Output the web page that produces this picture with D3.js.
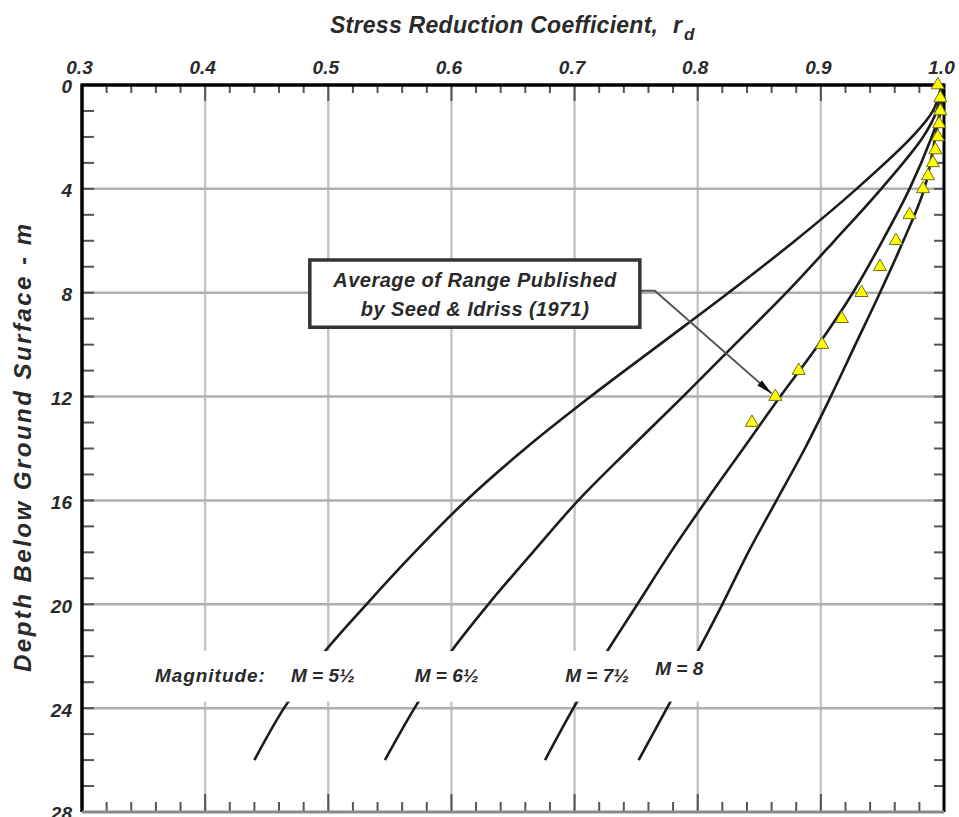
<!DOCTYPE html>
<html>
<head>
<meta charset="utf-8">
<script src="https://cdn.jsdelivr.net/npm/d3@7"></script>
<style>
  html, body { margin: 0; padding: 0; background: #fff; }
  svg { display: block; }
  text { font-family: "Liberation Sans", Arial, Helvetica, sans-serif; font-style: italic; font-weight: bold; fill: #2a2a2a; }
</style>
</head>
<body>
<svg id="chart" width="959" height="817"></svg>
<script>
// Depth stations (m) at which each magnitude curve is tabulated
const depthStations = [0, 1, 2, 4, 6, 8, 10, 12, 14, 16, 18, 20, 22, 24, 26];
// Stress reduction coefficient r_d for each earthquake magnitude
const rdM55 = [0.998, 0.991, 0.974, 0.929, 0.879, 0.825, 0.769, 0.713, 0.660, 0.612, 0.570, 0.531, 0.494, 0.464, 0.440];
const rdM65 = [0.998, 0.994, 0.983, 0.949, 0.911, 0.872, 0.830, 0.788, 0.745, 0.703, 0.666, 0.630, 0.597, 0.570, 0.546];
const rdM75 = [0.998, 0.997, 0.990, 0.972, 0.950, 0.926, 0.898, 0.867, 0.837, 0.807, 0.778, 0.751, 0.724, 0.699, 0.676];
const rdM80 = [0.998, 0.997, 0.993, 0.984, 0.967, 0.948, 0.928, 0.908, 0.887, 0.864, 0.841, 0.820, 0.798, 0.775, 0.752];
const magnitudeLabels = ["M = 5½", "M = 6½", "M = 7½", "M = 8"];

// Average of the range published by Seed & Idriss (1971)
const seedIdrissDepth = [0, 0.5, 1, 1.5, 2, 2.5, 3, 3.5, 4, 5, 6, 7, 8, 9, 10, 11, 12, 13];
const seedIdrissRd = [0.995, 0.997, 0.997, 0.996, 0.995, 0.993, 0.991, 0.987, 0.983, 0.972, 0.961, 0.948, 0.933, 0.917, 0.901, 0.882, 0.863, 0.844];

// Axis ticks
const rdTicks = [0.3, 0.4, 0.5, 0.6, 0.7, 0.8, 0.9, 1.0];
const rdTickLabels = ["0.3", "0.4", "0.5", "0.6", "0.7", "0.8", "0.9", "1.0"];
const depthTicks = [0, 4, 8, 12, 16, 20, 24, 28];
const depthTickLabels = ["0", "4", "8", "12", "16", "20", "24", "28"];

const plot = { left: 82, right: 944, top: 85, bottom: 812 };
const x = d3.scaleLinear().domain([0.3, 1.0]).range([plot.left, plot.right]);
const y = d3.scaleLinear().domain([0, 28]).range([plot.top, plot.bottom]);
const svg = d3.select("#chart");

// ---- grid ----
const grid = svg.append("g");
grid.selectAll("line.v").data(rdTicks.slice(1, -1)).join("line")
  .attr("class", "v")
  .attr("x1", d => x(d)).attr("x2", d => x(d))
  .attr("y1", plot.top).attr("y2", plot.bottom)
  .attr("stroke", "#c6c6c6").attr("stroke-width", 2.5);
grid.selectAll("line.h").data(depthTicks.slice(1, -1)).join("line")
  .attr("class", "h")
  .attr("x1", plot.left).attr("x2", plot.right)
  .attr("y1", d => y(d)).attr("y2", d => y(d))
  .attr("stroke", "#aeaeae").attr("stroke-width", 2.5);

// ---- magnitude curves ----
const series = [rdM55, rdM65, rdM75, rdM80].map(vals =>
  vals.map((r, i) => ({ r, d: depthStations[i] })));
const line = d3.line().x(p => x(p.r)).y(p => y(p.d)).curve(d3.curveCatmullRom.alpha(0.5));
svg.append("g").selectAll("path").data(series).join("path")
  .attr("d", line)
  .attr("fill", "none")
  .attr("stroke", "#1c1c1c")
  .attr("stroke-width", 2.6);

// white band holding the magnitude labels
svg.append("rect")
  .attr("x", x(0.3) + 14).attr("width", x(0.86) - x(0.3) - 14)
  .attr("y", y(21.8)).attr("height", y(23.75) - y(21.8))
  .attr("fill", "#fff");

// ---- ticks ----
const ticks = svg.append("g").attr("stroke", "#555").attr("stroke-width", 2);
const minorRd = x.ticks(35);
const isMajor = v => Math.abs(v * 10 - Math.round(v * 10)) < 1e-6;
ticks.selectAll("line.t").data(minorRd).join("line").attr("class", "t")
  .attr("x1", d => x(d)).attr("x2", d => x(d))
  .attr("y1", plot.top).attr("y2", d => plot.top + (isMajor(d) ? 16 : 8));
ticks.selectAll("line.b").data(minorRd).join("line").attr("class", "b")
  .attr("x1", d => x(d)).attr("x2", d => x(d))
  .attr("y1", plot.bottom).attr("y2", d => plot.bottom - (isMajor(d) ? 18 : 10));
const minorDepth = y.ticks(28);
ticks.selectAll("line.l").data(minorDepth).join("line").attr("class", "l")
  .attr("x1", plot.left).attr("x2", plot.left + 12)
  .attr("y1", d => y(d)).attr("y2", d => y(d));
ticks.selectAll("line.r").data(minorDepth).join("line").attr("class", "r")
  .attr("x1", plot.right).attr("x2", plot.right - 10)
  .attr("y1", d => y(d)).attr("y2", d => y(d));

// ---- frame ----
const frame = svg.append("g");
frame.append("line").attr("x1", plot.left).attr("x2", plot.right).attr("y1", plot.top).attr("y2", plot.top)
  .attr("stroke", "#000").attr("stroke-width", 3.5);
frame.append("line").attr("x1", plot.left).attr("x2", plot.left).attr("y1", plot.top - 1.5).attr("y2", plot.bottom)
  .attr("stroke", "#000").attr("stroke-width", 3.5);
frame.append("line").attr("x1", plot.right).attr("x2", plot.right).attr("y1", plot.top - 1.5).attr("y2", plot.bottom)
  .attr("stroke", "#000").attr("stroke-width", 3);
frame.append("line").attr("x1", plot.left).attr("x2", plot.right).attr("y1", plot.bottom).attr("y2", plot.bottom)
  .attr("stroke", "#8a8a8a").attr("stroke-width", 3);

// ---- axes labels ----
const topAxis = d3.axisTop(x).tickValues(rdTicks)
  .tickFormat((d, i) => rdTickLabels[i]).tickSize(0).tickPadding(11);
const gTop = svg.append("g").attr("transform", `translate(0,${plot.top})`).call(topAxis);
gTop.select(".domain").remove();
gTop.selectAll("text").attr("font-size", 19).attr("dx", -3)
  .style("font-family", '"Liberation Sans", Arial, sans-serif').attr("fill", "#2a2a2a");

const leftAxis = d3.axisLeft(y).tickValues(depthTicks)
  .tickFormat((d, i) => depthTickLabels[i]).tickSize(0).tickPadding(10);
const gLeft = svg.append("g").attr("transform", `translate(${plot.left},0)`).call(leftAxis);
gLeft.select(".domain").remove();
gLeft.selectAll("text").attr("font-size", 19).attr("dy", "0.42em")
  .style("font-family", '"Liberation Sans", Arial, sans-serif').attr("fill", "#2a2a2a");

// axis titles
const title = svg.append("g");
title.append("text").attr("x", 330).attr("y", 33).attr("font-size", 23)
  .attr("textLength", 328).attr("lengthAdjust", "spacing")
  .text("Stress Reduction Coefficient,");
title.append("text").attr("x", 673).attr("y", 33).attr("font-size", 23).text("r");
title.append("text").attr("x", 684).attr("y", 40).attr("font-size", 17).text("d");

svg.append("text")
  .attr("transform", `translate(31,448) rotate(-90)`)
  .attr("text-anchor", "middle").attr("font-size", 24)
  .attr("textLength", 448).attr("lengthAdjust", "spacing")
  .text("Depth Below Ground Surface - m");

// ---- annotation box with arrow ----
const box = { r0: 0.485, r1: 0.753, d0: 6.74, d1: 9.33 };
const arrowTip = { r: 0.860, d: 11.88 };
svg.append("defs").append("marker")
  .attr("id", "head").attr("viewBox", "0 0 16 8")
  .attr("refX", 16).attr("refY", 4)
  .attr("markerWidth", 16).attr("markerHeight", 8)
  .attr("markerUnits", "userSpaceOnUse").attr("orient", "auto")
  .append("path").attr("d", "M0,0.5 L16,4 L0,7.5 Z").attr("fill", "#111");
const yMid = y(7.92);
svg.append("path")
  .attr("d", d3.line()([[x(box.r1), yMid], [x(box.r1) + 15, yMid], [x(arrowTip.r), y(arrowTip.d)]]))
  .attr("fill", "none").attr("stroke", "#555").attr("stroke-width", 2)
  .attr("marker-end", "url(#head)");

// ---- Seed & Idriss points ----
svg.append("g").selectAll("path").data(seedIdrissDepth.map((d, i) => ({ d, r: seedIdrissRd[i] })))
  .join("path")
  .attr("transform", p => `translate(${x(p.r)},${y(p.d)})`)
  .attr("d", d3.symbol(d3.symbolTriangle, 75))
  .attr("fill", "#ffff00").attr("stroke", "#6e6e24").attr("stroke-width", 1);

svg.append("rect")
  .attr("x", x(box.r0)).attr("y", y(box.d0))
  .attr("width", x(box.r1) - x(box.r0)).attr("height", y(box.d1) - y(box.d0))
  .attr("fill", "#fff").attr("stroke", "#333").attr("stroke-width", 3.5);
const boxCx = (x(box.r0) + x(box.r1)) / 2;
svg.append("text").attr("x", boxCx).attr("y", y(box.d0) + 27).attr("text-anchor", "middle")
  .attr("font-size", 20).attr("textLength", 283).attr("lengthAdjust", "spacing")
  .text("Average of Range Published");
svg.append("text").attr("x", boxCx).attr("y", y(box.d0) + 56).attr("text-anchor", "middle")
  .attr("font-size", 20).attr("textLength", 228).attr("lengthAdjust", "spacing")
  .text("by Seed & Idriss (1971)");

// ---- magnitude labels ----
const labelShift = [{ dx: 2, dy: 0 }, { dx: -1, dy: 0 }, { dx: -7, dy: 0 }, { dx: -16, dy: -7 }];
const idx22 = depthStations.indexOf(22);
const labelDepth = 22.75;
svg.append("g").selectAll("text").data(series).join("text")
  .attr("x", (s, i) => x(s[idx22].r) + labelShift[i].dx)
  .attr("y", (s, i) => y(labelDepth) + labelShift[i].dy)
  .attr("dy", "0.35em")
  .attr("text-anchor", "middle").attr("font-size", 19)
  .text((s, i) => magnitudeLabels[i]);
svg.append("text")
  .attr("x", x(series[0][idx22].r) - 56).attr("y", y(labelDepth)).attr("dy", "0.35em")
  .attr("text-anchor", "end").attr("font-size", 19)
  .attr("textLength", 110).attr("lengthAdjust", "spacing")
  .text("Magnitude:");
</script>
</body>
</html>
